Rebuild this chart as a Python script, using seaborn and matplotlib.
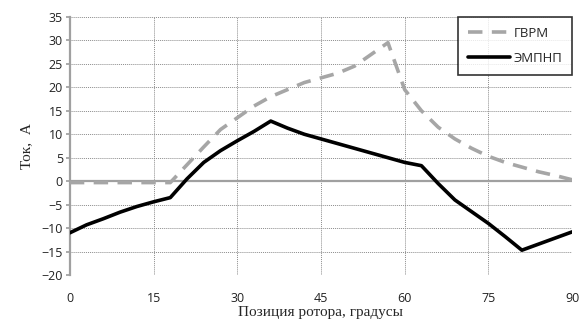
import numpy as np
import pandas as pd
import matplotlib
matplotlib.use("Agg")
import matplotlib.pyplot as plt
import seaborn as sns

angle = [0, 3, 6, 9, 12, 15, 18, 21, 24, 27, 30, 33, 36, 39, 42, 45, 48, 51, 54, 57, 60,
         63, 66, 69, 72, 75, 78, 81, 84, 87, 90]
gvrm = [-0.3, -0.3, -0.3, -0.3, -0.3, -0.3, -0.3, 3.5, 7.3, 11.0, 13.5, 16.0, 18.0, 19.5, 21.0,
        22.0, 23.0, 24.5, 27.0, 29.5, 19.5, 15.0, 11.5, 9.0, 7.0, 5.3, 4.0, 3.0, 2.0, 1.2, 0.3]
empnp = [-11.0, -9.3, -8.0, -6.6, -5.4, -4.4, -3.5, 0.5, 4.0, 6.5, 8.6, 10.6, 12.8, 11.3, 10.0,
         9.0, 8.0, 7.0, 6.0, 5.0, 4.0, 3.3, -0.5, -4.0, -6.5, -9.0, -11.8, -14.7, -13.4, -12.1, -10.8]
series_names = ["ГВРМ", "ЭМПНП"]
x_ticks = [0, 15, 30, 45, 60, 75, 90]
y_ticks = [-20, -15, -10, -5, 0, 5, 10, 15, 20, 25, 30, 35]

df = pd.DataFrame({
    "angle": angle * 2,
    "value": gvrm + empnp,
    "series": [series_names[0]] * len(angle) + [series_names[1]] * len(angle),
})

sns.set_theme(style="white")
plt.rcParams["font.family"] = ["Open Sans", "DejaVu Sans"]

fig = plt.figure(figsize=(5.82, 3.24), dpi=100)
ax = fig.add_axes([0.120, 0.151, 0.863, 0.797])

ax.axhline(0, color="#a0a0a0", lw=1.6, zorder=1)

sns.lineplot(data=df, x="angle", y="value", hue="series", style="series",
             palette={series_names[0]: "#a6a6a6", series_names[1]: "#000000"},
             dashes={series_names[0]: (4, 2.6), series_names[1]: ""},
             linewidth=2.6, ax=ax, zorder=3)

ax.set_xlim(0, 90)
ax.set_ylim(-20, 35)
ax.set_xticks(x_ticks)
ax.set_yticks(y_ticks)
ax.grid(True, color="#8c8c8c", linestyle=(0, (1, 1)), linewidth=0.7)
ax.set_axisbelow(True)
for s in ["top", "right", "bottom"]:
    ax.spines[s].set_visible(False)
ax.spines["left"].set_color("#a0a0a0")
ax.spines["left"].set_linewidth(1.6)
ax.tick_params(axis="y", length=3, color="#a0a0a0", labelsize=9, pad=2, left=True)
ax.tick_params(axis="x", length=0, labelsize=9, pad=12)
for lab in ax.get_xticklabels() + ax.get_yticklabels():
    lab.set_color("#222222")

ax.set_xlabel("Позиция ротора, градусы", family="Liberation Serif", fontsize=11, labelpad=1)
ax.set_ylabel("Ток,  А", family="Liberation Serif", fontsize=11, labelpad=6)

leg = ax.legend(loc="upper right", frameon=True, fontsize=9.5, handlelength=3.2,
                borderaxespad=0.0, fancybox=False, labelspacing=0.9,
                borderpad=0.75, handletextpad=0.25)
leg.get_frame().set_edgecolor("black")
leg.get_frame().set_linewidth(1.2)
leg.set_title(None)

fig.savefig("out.png", dpi=100)
